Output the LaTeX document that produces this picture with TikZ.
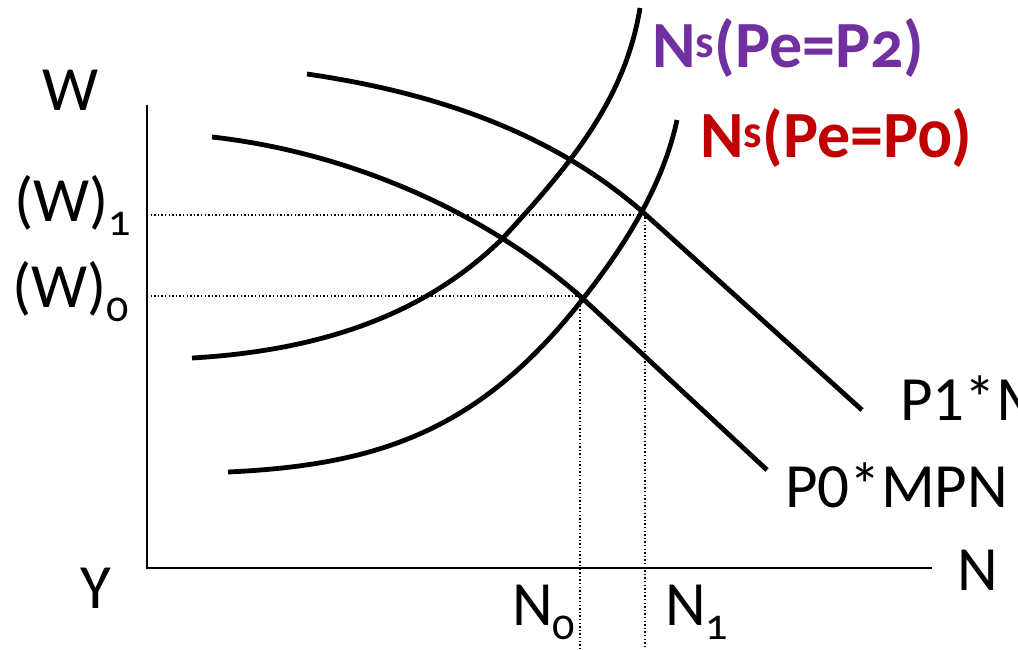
\documentclass[tikz,border=0pt]{standalone}
\usepackage{fontspec}
\setmainfont{Carlito}
\newfontfamily\oldfig[Numbers=OldStyle]{Carlito}
\definecolor{NsPurple}{RGB}{112,48,160}
\definecolor{NsRed}{RGB}{192,0,0}

\begin{document}
\begin{tikzpicture}[x=1pt,y=-1pt,
  curve/.style={line width=4.8pt},
  axis/.style={line width=2.4pt},
  guide/.style={line width=1.2pt,dash pattern=on 1.3pt off 2.3pt},
  lbl/.style={font=\fontsize{63}{70}\selectfont,inner sep=0pt,anchor=base west},
  nslbl/.style={font=\fontsize{66}{72}\selectfont\bfseries,inner sep=0pt,anchor=base west,text=#1}]
\useasboundingbox (0,0) rectangle (1018,649);
\clip (0,0) rectangle (1018,649);
% axes
\coordinate (origin) at (147,568);
\coordinate (ytop) at (147,105);
\coordinate (xend) at (932,568);
\coordinate (bottom) at (0,649);
\draw[axis] (ytop) -- (origin) -- (xend);
% equilibria and guide lines
\coordinate (e0) at (580,296);
\coordinate (e1) at (645,215);
\foreach \e in {e0,e1} {
   \draw[guide] (\e -| origin) -- (\e) -- (\e |- bottom);
}
% labour demand
\draw[curve] (307,74) .. controls (430,92) and (550,130) .. (645,214) -- (862,410);
\draw[curve] (212,137) .. controls (330,150) and (470,200) .. (580,296) -- (767,470);
% labour supply
\draw[curve] (192,358) .. controls (330,350) and (430,310) .. (503,238)
   .. controls (570,165) and (625,100) .. (640,8);
\draw[curve] (228,472) .. controls (380,465) and (480,430) .. (582,300)
   .. controls (620,252) and (662,190) .. (677,120);
% labels
\node[lbl] (wlab) at (42,110) {W};
\node[lbl] (w1lab) at (14,221) {(W)\textsubscript{\oldfig 1}};
\node[lbl] (w0lab) at (12,307) {(W)\textsubscript{\oldfig 0}};
\node[lbl] (ylab) at (80,608) {Y};
\node[lbl] (nlab) at (957,590) {N};
\node[lbl] (n0lab) at (512,625) {N\textsubscript{\oldfig 0}};
\node[lbl] (n1lab) at (665,625) {N\textsubscript{\oldfig 1}};
\node[lbl] (p1lab) at (900,420) {P1*MPN};
\node[lbl] (p0lab) at (785,507) {P0*MPN};
\node[nslbl=NsPurple] (ns2lab) at (652,67) {N\textsuperscript{s}(Pe=P{\oldfig 2})};
\node[nslbl=NsRed] (ns0lab) at (700,157) {N\textsuperscript{s}(Pe=P{\oldfig 0})};
\end{tikzpicture}
\end{document}
